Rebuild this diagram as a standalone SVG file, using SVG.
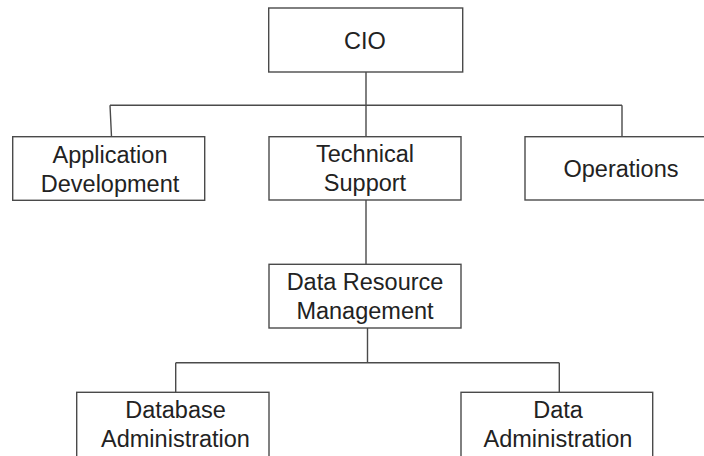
<svg xmlns="http://www.w3.org/2000/svg" width="704" height="456" viewBox="0 0 704 456">
<style>
.box{fill:#fff;stroke:#4a4a4a;stroke-width:1.4}
.ln{fill:none;stroke:#4a4a4a;stroke-width:1.4}
text{font-family:"Liberation Sans",Arial,sans-serif;font-size:23.5px;fill:#222;text-anchor:middle}
</style>
<rect width="704" height="456" fill="#fff"/>
<g id="connectors">
<path class="ln" d="M366 72V105.3M110 105.3H622M110 105.3L111.5 136.7M366 105.3V136.7M622 105.3V136.7"/>
<path class="ln" d="M366 200V264.3"/>
<path class="ln" d="M367.5 328V362.7M175.7 362.7H559.3M175.7 362.7V392.3M559.3 362.7V392.3"/>
</g>
<g id="cio"><rect class="box" x="268.7" y="8" width="194" height="64"/><text x="365" y="49">CIO</text></g>
<g id="appdev"><rect class="box" x="12.7" y="136.7" width="192" height="63.6"/><text x="110" y="162.5">Application</text><text x="110" y="191.5">Development</text></g>
<g id="techsupport"><rect class="box" x="269" y="136.7" width="192" height="63.3"/><text x="365" y="162">Technical</text><text x="365" y="191">Support</text></g>
<g id="operations"><rect class="box" x="525" y="136.7" width="194" height="63.3"/><text x="621" y="177.3">Operations</text></g>
<g id="drm"><rect class="box" x="269" y="264.3" width="192" height="63.7"/><text x="365" y="290">Data Resource</text><text x="365" y="319">Management</text></g>
<g id="dba"><rect class="box" x="76.7" y="392.3" width="192.3" height="70"/><text x="175.5" y="417.7">Database</text><text x="175.5" y="446.7">Administration</text></g>
<g id="da"><rect class="box" x="461" y="392.3" width="191.7" height="70"/><text x="558" y="417.7">Data</text><text x="558" y="446.7">Administration</text></g>
</svg>
